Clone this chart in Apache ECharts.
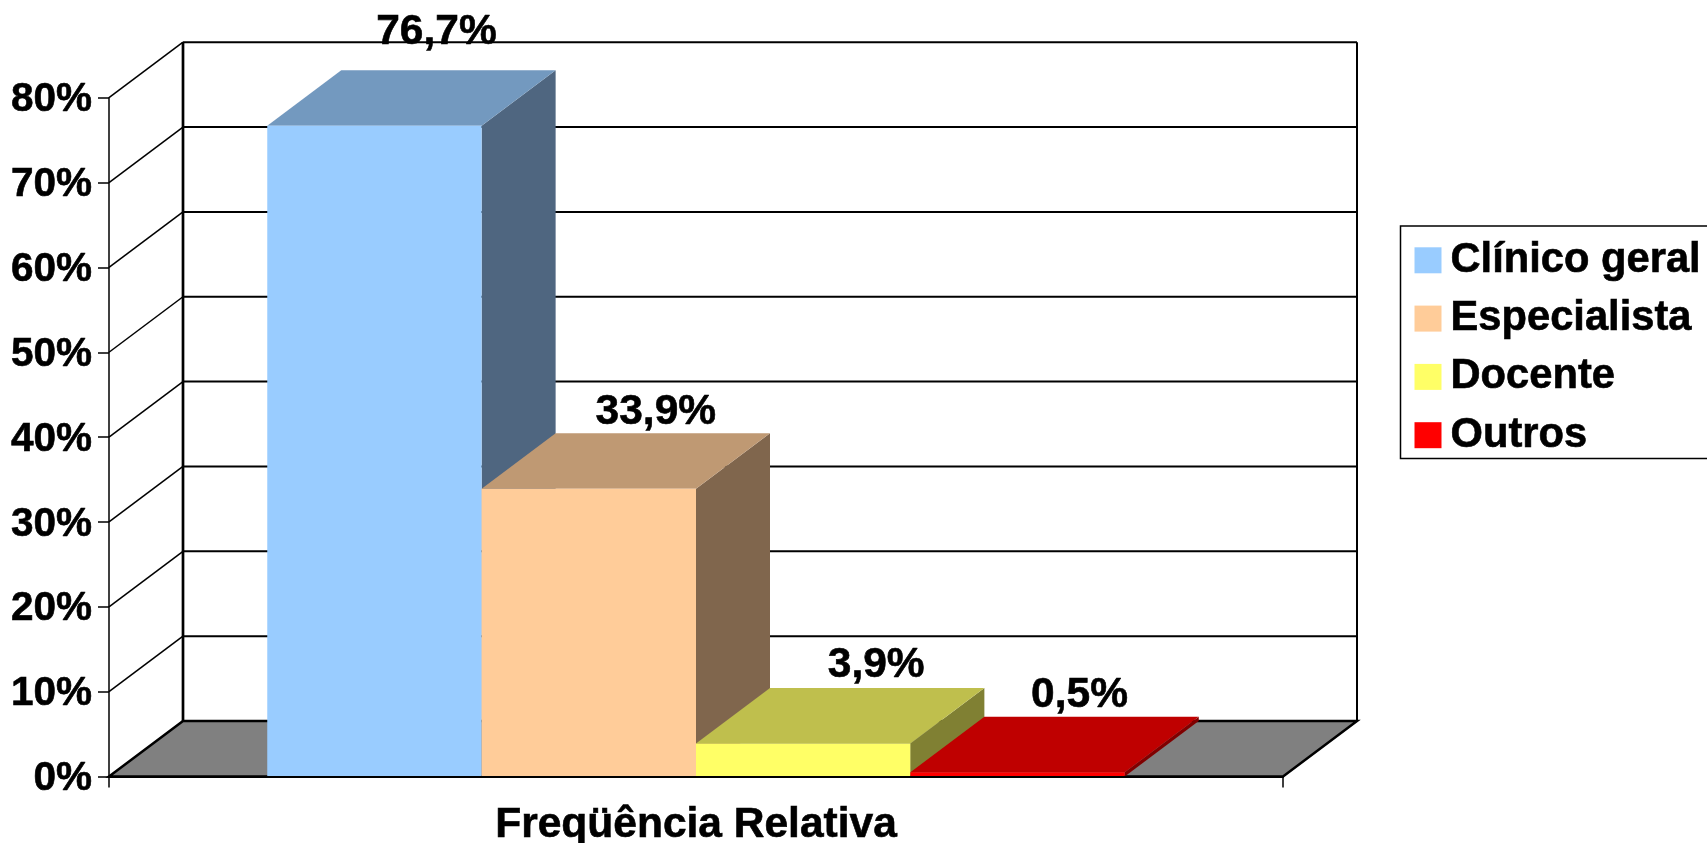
<!DOCTYPE html>
<html>
<head>
    <meta charset="UTF-8">
    <title>Freqüência Relativa</title>
    <script src="https://cdn.jsdelivr.net/npm/echarts@6/dist/echarts.min.js"></script>
    <style>
        html, body {
            margin: 0;
            padding: 0;
            height: 100%;
            background: #fff;
        }
        #chart {
            width: 1707px;
            height: 843px;
        }
    </style>
</head>
<body>

<div id="chart"></div>

<script>
    // data
    var categories = ['Freqüência Relativa'];
    var seriesNames = ['Clínico geral', 'Especialista', 'Docente', 'Outros'];
    var seriesValues = [76.7, 33.9, 3.9, 0.5];
    var yTicks = [0, 10, 20, 30, 40, 50, 60, 70, 80];

    var frontColors = ['#99CCFF', '#FFCC99', '#FFFF66', '#FF0000'];
    var topColors = ['#7399BF', '#BF9973', '#BFBF4D', '#BF0000'];
    var sideColors = ['#4F6680', '#80664D', '#808033', '#800000'];

    // fake 3D: how far the back wall sits from the front plane, in px
    var depthX = 74;
    var depthY = -55.5;
    var barShare = 0.1826; // width of one bar as a share of the category band
    var labelShiftX = [-12, -7, -1, -12];
    var labelGap = [16, 0, 1, 0];

    var font = '"Liberation Sans", Arial, sans-serif';

    function line(x1, y1, x2, y2, width) {
        return {
            type: 'line',
            shape: { x1: x1, y1: y1, x2: x2, y2: y2 },
            style: { stroke: '#000', lineWidth: width }
        };
    }

    function poly(points, color) {
        return {
            type: 'polygon',
            shape: { points: points },
            style: { fill: color, stroke: null }
        };
    }

    // back wall, floor and the grid lines that run around the corner
    function renderWall(params, api) {
        var value = api.value(0);
        var band = api.size([1, 0])[0];
        var center = api.coord([0, value]);
        var left = center[0] - band / 2;
        var right = center[0] + band / 2;
        var y = center[1];
        var backY = y + depthY;
        var children = [];

        if (value === 0) {
            children.push({
                type: 'polygon',
                shape: { points: [[left, y], [left + depthX, backY], [right + depthX, backY], [right, y]] },
                style: { fill: '#808080', stroke: '#000', lineWidth: 2.5 }
            });
        } else {
            children.push(line(left, y, left + depthX, backY, 1.5));
            children.push(line(left + depthX, backY, right + depthX, backY, 2));
        }
        if (value === yTicks[yTicks.length - 1]) {
            var floorY = api.coord([0, 0])[1] + depthY;
            children.push(line(left + depthX, backY, left + depthX, floorY, 2.7));
            children.push(line(right + depthX, backY, right + depthX, floorY, 2));
        }
        return { type: 'group', children: children };
    }

    function renderBar(index) {
        return function (params, api) {
            var value = api.value(1);
            var band = api.size([1, 0])[0];
            var width = band * barShare;
            var center = api.coord([api.value(0), value]);
            var base = api.coord([api.value(0), 0]);
            var x0 = center[0] + (index - seriesNames.length / 2) * width;
            var x1 = x0 + width;
            var yTop = center[1];
            var yBase = base[1];

            return {
                type: 'group',
                children: [
                    poly([[x1, yTop], [x1 + depthX, yTop + depthY], [x1 + depthX, yBase + depthY], [x1, yBase]], sideColors[index]),
                    poly([[x0, yTop], [x0 + depthX, yTop + depthY], [x1 + depthX, yTop + depthY], [x1, yTop]], topColors[index]),
                    poly([[x0, yTop], [x1, yTop], [x1, yBase], [x0, yBase]], frontColors[index]),
                    {
                        type: 'text',
                        z2: 50,
                        style: {
                            x: (x0 + x1) / 2 + depthX + labelShiftX[index],
                            y: yTop + depthY - labelGap[index],
                            text: value.toFixed(1).replace('.', ',') + '%',
                            fill: '#000',
                            stroke: '#000',
                            lineWidth: 0.6,
                            font: 'bold 42.5px ' + font,
                            align: 'center',
                            verticalAlign: 'bottom'
                        }
                    }
                ]
            };
        };
    }

    var series = [{
        name: 'wall',
        type: 'custom',
        silent: true,
        z: 1,
        renderItem: renderWall,
        encode: { y: 0 },
        data: yTicks.map(function (t) { return [t]; })
    }];

    seriesNames.forEach(function (name, i) {
        series.push({
            name: name,
            type: 'custom',
            z: 2 + i,
            renderItem: renderBar(i),
            itemStyle: { color: frontColors[i] },
            encode: { x: 0, y: 1 },
            data: [[categories[0], seriesValues[i]]]
        });
    });

    var chart = echarts.init(document.getElementById('chart'));

    chart.setOption({
        animation: false,
        backgroundColor: '#fff',
        grid: { left: 109, right: 424, top: 97.7, bottom: 66.5, outerBoundsMode: 'none' },
        xAxis: {
            type: 'category',
            data: categories,
            z: 20,
            axisLine: { lineStyle: { color: '#000', width: 2 } },
            axisTick: { show: true, length: 11, lineStyle: { color: '#000', width: 1.5 } },
            axisLabel: {
                interval: 0,
                margin: 27,
                color: '#000',
                fontFamily: font,
                fontWeight: 'bold',
                fontSize: 42.5,
                textBorderColor: '#000',
                textBorderWidth: 0.6
            }
        },
        yAxis: {
            type: 'value',
            min: 0,
            max: 80,
            interval: 10,
            z: 20,
            splitLine: { show: false },
            axisLine: { show: true, lineStyle: { color: '#000', width: 1.5 } },
            axisTick: { show: true, length: 11, lineStyle: { color: '#000', width: 1.5 } },
            axisLabel: {
                margin: 17,
                // plain text ignores padding when centred, rich text does not
                padding: [5, 0, 0, 0],
                formatter: function (v) { return '{a|' + v + '%}'; },
                rich: {
                    a: {
                        color: '#000',
                        fontFamily: font,
                        fontWeight: 'bold',
                        fontSize: 40.5,
                        textBorderColor: '#000',
                        textBorderWidth: 0.6
                    }
                }
            }
        },
        legend: {
            orient: 'vertical',
            left: 1400.5,
            top: 226,
            data: seriesNames,
            icon: 'rect',
            selectedMode: false,
            itemWidth: 27,
            itemHeight: 26,
            itemGap: 15.7,
            padding: [13, 20, 2, 14],
            borderColor: '#000',
            borderWidth: 1.5,
            textStyle: {
                color: '#000',
                fontFamily: font,
                fontWeight: 'bold',
                fontSize: 41.7,
                padding: [0, 0, 0, 4],
                textBorderColor: '#000',
                textBorderWidth: 0.6
            }
        },
        series: series
    });

    window.addEventListener('resize', function () {
        chart.resize();
    });
</script>
</body>
</html>
